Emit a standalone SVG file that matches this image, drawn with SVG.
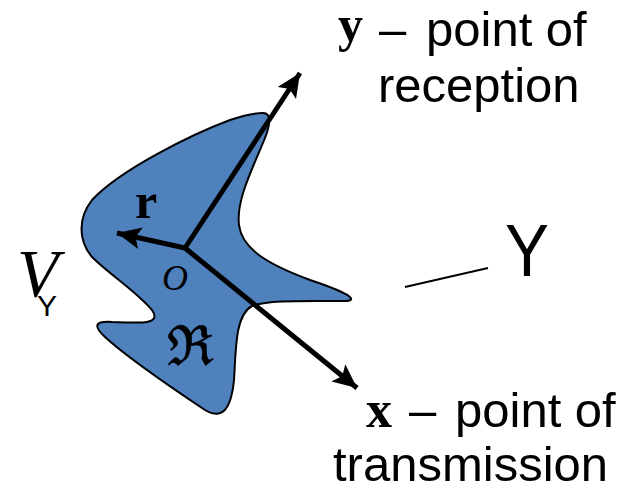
<svg xmlns="http://www.w3.org/2000/svg" width="637" height="495" viewBox="0 0 637 495">
<style>
.sans{font-family:"Liberation Sans",Arial,sans-serif;fill:#000}
.serif{font-family:"Liberation Serif","Times New Roman",serif;fill:#000}
.arr{stroke:#000;stroke-width:5;fill:none}
</style>
<defs>
<marker id="ah" markerUnits="userSpaceOnUse" markerWidth="28" markerHeight="24" refX="24" refY="11" orient="auto">
<path d="M0,0 L24,11 L0,22 L5,11 Z" fill="#000"/>
</marker>
</defs>
<rect width="637" height="495" fill="#fff"/>
<g id="region">
<path d="M263,113 C272,113 270,125 265,138 C252,170 236,200 239,225 C242,250 270,265 310,280 C355,295 360,302 340,301 C300,301 268,300 252,306 C235,315 236,350 234,380 C231,410 222,420 205,410 C175,390 130,360 105,337 C92,325 96,321 112,322 C140,323 162,325 152,310 C135,290 110,275 92,257 C78,240 78,218 92,200 C120,170 190,135 230,120 C245,115 255,113 263,113 Z" fill="#4f81bd" stroke="#000" stroke-width="2"/>
<text class="serif" x="162" y="290" font-size="36" font-style="italic">O</text>
<text x="167" y="365" font-size="55" font-family="'DejaVu Serif',serif" stroke="#000" stroke-width="0.6">ℜ</text>
<text class="serif" x="135" y="218" font-size="50" font-weight="bold">r</text>
</g>
<g id="connectors">
<line class="arr" x1="185" y1="248" x2="300" y2="73" marker-end="url(#ah)"/>
<line class="arr" x1="185" y1="248" x2="357" y2="388" marker-end="url(#ah)"/>
<line class="arr" x1="185" y1="248" x2="117" y2="233" marker-end="url(#ah)"/>
<line x1="405" y1="287" x2="488" y2="268" stroke="#000" stroke-width="2"/>
</g>
<g id="label-y">
<text class="serif" x="338" y="41" font-size="50" font-weight="bold">y</text>
<text class="sans" y="46" font-size="49"><tspan x="379">–</tspan><tspan x="426">point of</tspan></text>
<text class="sans" x="378" y="102" font-size="49">reception</text>
</g>
<g id="label-x">
<text class="serif" x="366" y="427" font-size="52" font-weight="bold">x</text>
<text class="sans" y="427" font-size="49"><tspan x="409">–</tspan><tspan x="455">point of</tspan></text>
<text class="sans" x="333" y="481" font-size="49">transmission</text>
</g>
<g id="label-Y">
<text class="sans" transform="translate(505,276) scale(1,1.12)" font-size="66">Y</text>
</g>
<g id="label-VY">
<text class="serif" x="17" y="296" font-size="68" font-style="italic">V</text>
<text class="sans" x="37" y="316" font-size="30">Y</text>
</g>
</svg>
